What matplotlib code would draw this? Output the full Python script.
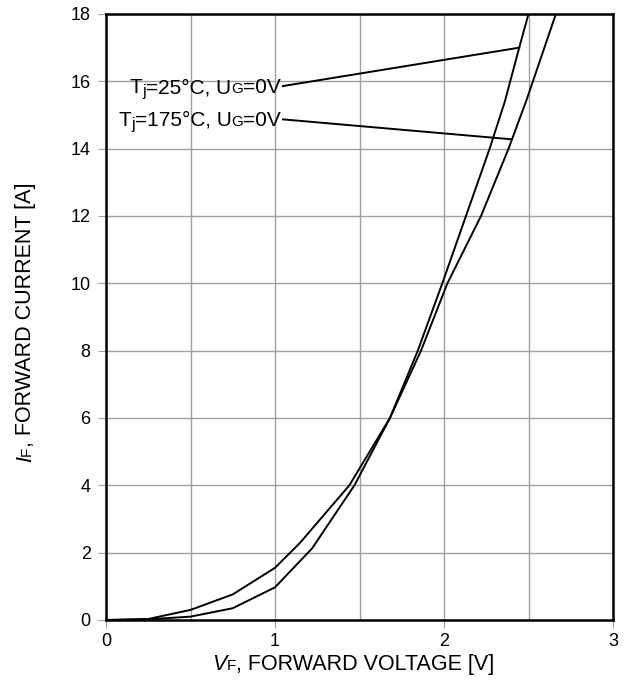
import matplotlib
matplotlib.use("Agg")
import matplotlib.pyplot as plt
from matplotlib.ticker import MultipleLocator
from matplotlib.transforms import IdentityTransform

plt.rcParams['font.family'] = ['Liberation Sans', 'DejaVu Sans']

# 25 °C curve
v25 = [0, 0.25, 0.5, 0.75, 1.0, 1.22, 1.47, 1.68, 1.845, 1.99, 2.13, 2.27, 2.36, 2.445, 2.50]
i25 = [0, 0.02, 0.1, 0.35, 0.97, 2.13, 4.0, 6.0, 8.0, 10.0, 12.0, 14.0, 15.4, 17.0, 18.0]
# 175 °C curve
v175 = [0, 0.25, 0.5, 0.75, 1.0, 1.146, 1.44, 1.68, 1.864, 2.02, 2.219, 2.382, 2.488, 2.662]
i175 = [0, 0.03, 0.3, 0.76, 1.55, 2.28, 4.0, 6.0, 8.0, 10.0, 12.0, 14.0, 15.44, 18.0]

temps = ['25', '175']
line_start = [(1.047, 15.86), (1.047, 14.87)]
line_tip = [(2.445, 17.0), (2.396, 14.28)]

W, H = 626, 681
fig = plt.figure(figsize=(W / 100, H / 100), dpi=100)
ax = fig.add_axes([106 / W, 1 - 620 / H, 507 / W, 606 / H])

ax.plot(v25, i25, color='black', lw=1.4)
ax.plot(v175, i175, color='black', lw=1.4)

ax.set_xlim(0, 3)
ax.set_ylim(0, 18)
ax.xaxis.set_major_locator(MultipleLocator(1))
ax.xaxis.set_minor_locator(MultipleLocator(0.5))
ax.yaxis.set_major_locator(MultipleLocator(2))
ax.grid(True, which='both', color='#a0a0a0', lw=1.0)
ax.set_axisbelow(True)
ax.tick_params(which='major', direction='out', length=5.5, color='#a0a0a0',
               labelsize=13)
ax.tick_params(axis='x', pad=4)
ax.tick_params(axis='y', pad=5.5)
ax.tick_params(which='minor', length=0)
for s in ax.spines.values():
    s.set_linewidth(1.8)
    s.set_color('black')

renderer = fig.canvas.get_renderer()


def rich(pieces, along0, cross0, rotation=0, align='left'):
    """pieces: (text, size, drop_px, style). Pixel coords from bottom-left."""
    items = []
    total = 0.0
    for s, size, drop, style in pieces:
        t = fig.text(0, 0, s, fontsize=size, style=style,
                     transform=IdentityTransform(), ha='left', va='baseline',
                     rotation=rotation, rotation_mode='anchor')
        bb = t.get_window_extent(renderer)
        w = bb.width if rotation == 0 else bb.height
        items.append((t, drop, w))
        total += w
    pos = along0 - total if align == 'right' else along0
    for t, drop, w in items:
        if rotation == 0:
            t.set_position((pos, cross0 - drop))
        else:
            t.set_position((cross0 + drop, pos))
        pos += w


fs_ann = 15
baselines = [H - 93, H - 125.5]
for temp, base in zip(temps, baselines):
    rich([('T', fs_ann, 0, 'normal'), ('j', 11.5, 3, 'normal'),
          ('=' + temp + '°C, U', fs_ann, 0, 'normal'), ('G', 11, 0, 'normal'),
          ('=0V', fs_ann, 0, 'normal')], 281, base, align='right')

for (x0, y0), (x1, y1) in zip(line_start, line_tip):
    ax.plot([x0, x1], [y0, y1], color='black', lw=1.4)

fs_lab = 15.5
rich([('V', fs_lab, 0, 'italic'), ('F', 11, 0, 'normal'),
      (', FORWARD VOLTAGE [V]', fs_lab, 0, 'normal')], 212, H - 670)
rich([('I', fs_lab, 0, 'italic'), ('F', 11, 0, 'normal'),
      (', FORWARD CURRENT [A]', fs_lab, 0, 'normal')], H - 462, 31, rotation=90)

fig.savefig('out.png', dpi=100)
